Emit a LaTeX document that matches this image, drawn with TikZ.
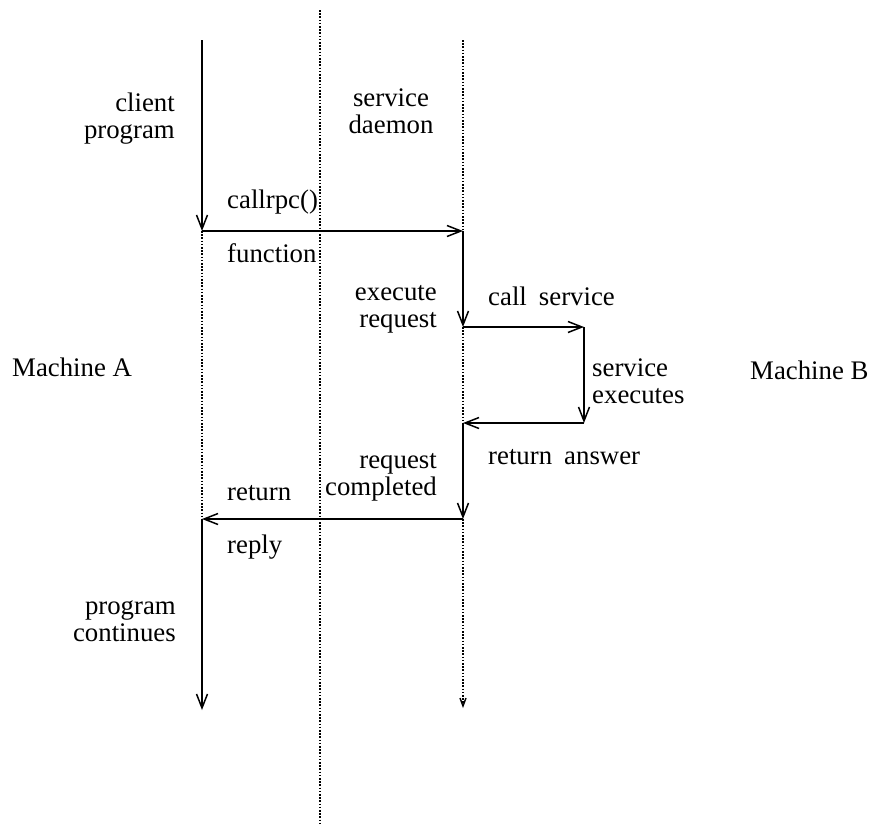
\documentclass[tikz,border=0pt]{standalone}
\usepackage{fontspec}
\setmainfont{Liberation Serif}
\usetikzlibrary{arrows.meta}
\begin{document}
\begin{tikzpicture}[x=1pt,y=-1pt,
  every node/.style={inner sep=0pt,font=\fontsize{26.8}{27}\selectfont},
  flow/.style={line width=1.8pt,-{Straight Barb[length=14pt,width=11pt,line width=1.5pt]}},
  dotline/.style={line width=2pt,dash pattern=on 1.6pt off 1.6pt},
  dotflow/.style={dotline,-{Straight Barb[length=8pt,width=6pt,line width=1.4pt]}}]
\useasboundingbox (0,0) rectangle (871,823);
% time lines
\coordinate (A0) at (202,40);
\coordinate (A1) at (202,231);
\coordinate (A2) at (202,519);
\coordinate (A3) at (202,710);
\coordinate (B0) at (463,40);
\coordinate (B1) at (463,231);
\coordinate (B2) at (463,327);
\coordinate (B3) at (463,423);
\coordinate (B4) at (463,519);
\coordinate (B5) at (463,708);
\coordinate (C1) at (584,327);
\coordinate (C2) at (584,423);
\coordinate (M0) at (320,10);
\coordinate (M1) at (320,823);
% machine boundary
\draw[dotline] (M0) -- (M1);
% client side
\draw[flow] (A0) -- (A1);
\draw[dotline] (A1) -- (A2);
\draw[flow] (A2) -- (A3);
% server side
\draw[dotline] (B0) -- (B1);
\draw[flow] (A1) -- (B1);
\draw[flow] (B1) -- (B2);
\draw[dotline] (B2) -- (B3);
\draw[flow] (B2) -- (C1);
\draw[flow] (C1) -- (C2);
\draw[flow] (C2) -- (B3);
\draw[flow] (B3) -- (B4);
\draw[flow] (B4) -- (A2);
\draw[dotflow] (B4) -- (B5);
% labels
\node[anchor=east,align=right] (client) at (175,119) {client\\program};
\node[align=center] (daemon) at (391,111) {service\\daemon};
\node[anchor=west] (callrpc) at (227,202) {callrpc()};
\node[anchor=west] (function) at (227,253) {function};
\node[anchor=east,align=right] (execute) at (437,309) {execute\\request};
\node[anchor=west] (callsvc) at (488,296) {call\hspace{0.45em}service};
\node[anchor=west,align=left] (svcexec) at (592,381) {service\\executes};
\node[anchor=west] (answer) at (488,457) {return\hspace{0.45em}answer};
\node[anchor=east,align=right] (completed) at (437,477) {request\\completed};
\node[anchor=west] (return) at (227,493) {return};
\node[anchor=west] (reply) at (227,547) {reply};
\node[anchor=east,align=right] (continues) at (176,621) {program\\continues};
\node[anchor=west] (machA) at (12,367) {Machine A};
\node[anchor=west] (machB) at (750,370) {Machine B};
\end{tikzpicture}
\end{document}
